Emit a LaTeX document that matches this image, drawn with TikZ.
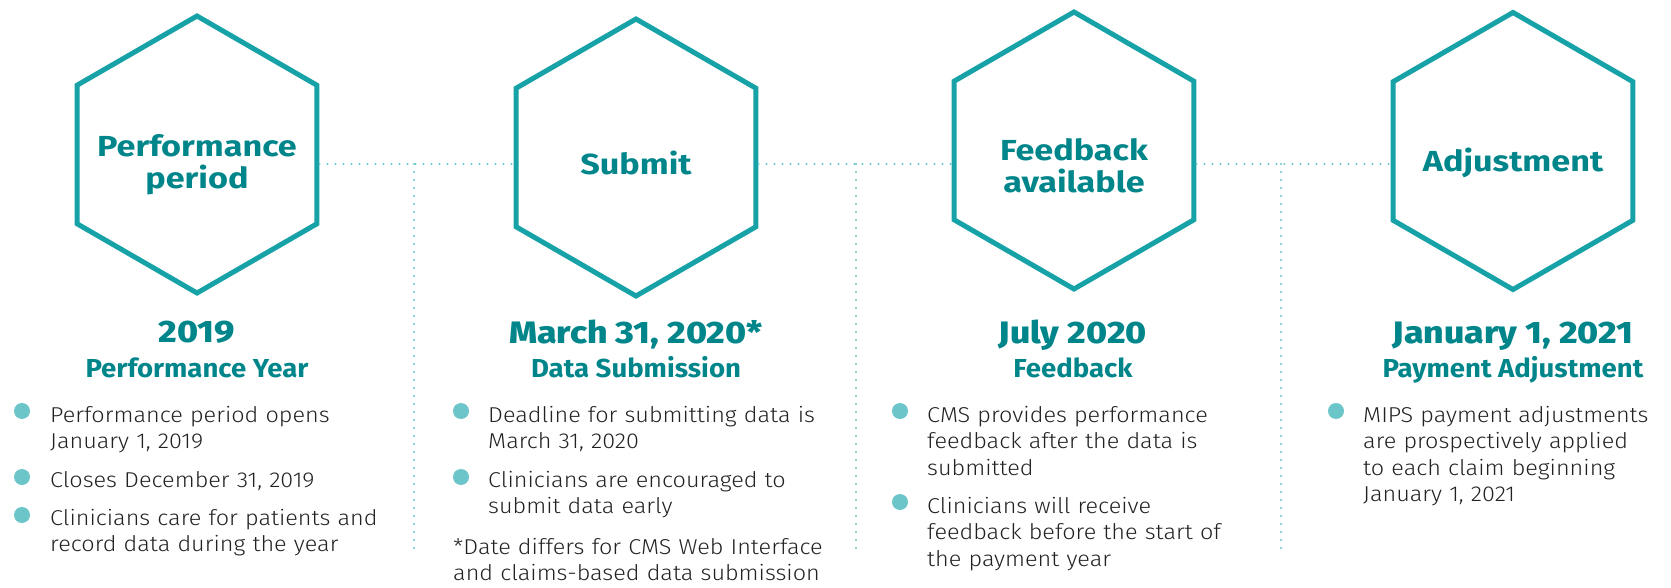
\documentclass[tikz,border=0pt]{standalone}
\usepackage{fontspec}
\setmainfont{Fira Sans Light}[FakeStretch=1.09]
\newfontfamily\hexfont{Fira Sans}[FakeStretch=1.18]
\newfontfamily\subfont{Fira Sans}[FakeStretch=1.06]
\newfontfamily\datefont{Fira Sans ExtraBold}[FakeStretch=1.15]
\usetikzlibrary{shapes.geometric}

\definecolor{hexline}{HTML}{17A2A8}
\definecolor{titleteal}{HTML}{00868A}
\definecolor{dotteal}{HTML}{6CC5C9}
\definecolor{bodygray}{HTML}{222222}

\tikzset{
  hexbox/.style={regular polygon, regular polygon sides=6, shape border rotate=30,
    minimum size=277pt, inner sep=0pt, draw=hexline, line width=5pt},
  hexlabel/.style={text=titleteal, font=\hexfont\fontsize{29}{32}\selectfont\bfseries,
    align=center, inner sep=0pt},
  datehead/.style={text=titleteal, font=\datefont\fontsize{31}{36}\selectfont,
    anchor=base, inner sep=0pt},
  subhead/.style={text=titleteal, font=\subfont\fontsize{26}{30}\selectfont\bfseries,
    anchor=base, inner sep=0pt},
  dotbullet/.style={circle, fill=dotteal, minimum size=16pt, inner sep=0pt},
  bodytext/.style={text=bodygray, font=\fontsize{21.5}{26.5}\selectfont,
    anchor=base west, align=left, text width=400pt, inner sep=0pt},
  dotline/.style={draw=dotteal, line width=2.4pt, dash pattern=on 0pt off 8pt,
    line cap=round}
}

\begin{document}
\begin{tikzpicture}[x=1pt,y=-1pt]
\useasboundingbox (0,0) rectangle (1671,588);

% hexagons
\node[hexbox] (hex1) at (197,154.5) {};
\node[hexbox] (hex2) at (636,157.5) {};
\node[hexbox] (hex3) at (1074,150.5) {};
\node[hexbox] (hex4) at (1513,151) {};
\node[hexlabel] (lab1) at (197,165) {Performance\\period};
\node[hexlabel] (lab2) at (636,162.5) {Submit};
\node[hexlabel] (lab3) at (1074,166) {Feedback\\available};
\node[hexlabel] (lab4) at (1513,162.5) {Adjustment};

% dotted connectors
\coordinate (j1) at (414,164);
\coordinate (j2) at (856,164);
\coordinate (j3) at (1281,164);
\coordinate (e1) at (414,550);
\coordinate (e2) at (856,550);
\coordinate (e3) at (1281,550);
\draw[dotline] (hex1.east |- j1) -- (hex2.west |- j1);
\draw[dotline] (hex2.east |- j2) -- (hex3.west |- j2);
\draw[dotline] (hex3.east |- j3) -- (hex4.west |- j3);
\draw[dotline] (j1) -- (e1);
\draw[dotline] (j2) -- (e2);
\draw[dotline] (j3) -- (e3);

% 2019
\node[datehead] (date1) at (197,342) {2019};
\node[subhead] (sub1) at (197,377) {Performance Year};
\node[dotbullet] (b11) at (22,411) {};
\node[bodytext] (t11) at (50,422) {Performance period opens\\January 1, 2019};
\node[dotbullet] (b12) at (22,477) {};
\node[bodytext] (t12) at (50,487) {Closes December 31, 2019};
\node[dotbullet] (b13) at (22,515) {};
\node[bodytext] (t13) at (50,525) {Clinicians care for patients and\\record data during the year};

% March 31, 2020
\node[datehead] (date2) at (636,343) {March 31, 2020*};
\node[subhead] (sub2) at (636,377) {Data Submission};
\node[dotbullet] (b21) at (461,411) {};
\node[bodytext] (t21) at (488,422) {Deadline for submitting data is\\March 31, 2020};
\node[dotbullet] (b22) at (461,477) {};
\node[bodytext] (t22) at (488,487) {Clinicians are encouraged to\\submit data early};
\node[bodytext] (note2) at (453,554) {*Date differs for CMS Web Interface\\and claims-based data submission};

% July 2020
\node[datehead] (date3) at (1073,343) {July 2020};
\node[subhead] (sub3) at (1073,377) {Feedback};
\node[dotbullet] (b31) at (900,411) {};
\node[bodytext] (t31) at (927,422) {CMS provides performance\\feedback after the data is\\submitted};
\node[dotbullet] (b32) at (900,502) {};
\node[bodytext] (t32) at (927,513) {Clinicians will receive\\feedback before the start of\\the payment year};

% January 1, 2021
\node[datehead] (date4) at (1513,343) {January 1, 2021};
\node[subhead] (sub4) at (1513,377) {Payment Adjustment};
\node[dotbullet] (b41) at (1336,411) {};
\node[bodytext] (t41) at (1363,422) {MIPS payment adjustments\\are prospectively applied\\to each claim beginning\\January 1, 2021};
\end{tikzpicture}
\end{document}
